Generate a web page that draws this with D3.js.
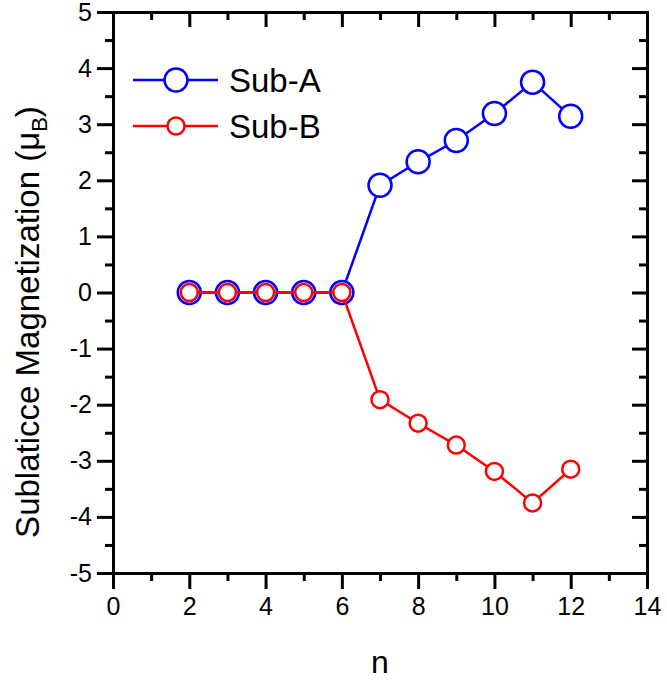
<!DOCTYPE html>
<html>
  <head>
    <meta charset="utf-8">
    <title>Sublattice Magnetization</title>
    <script src="https://d3js.org/d3.v7.min.js"></script>
    <style>
      body { margin: 0; background: #fff; }
      text { font-family: "Liberation Sans", Arial, sans-serif; }
    </style>
  </head>
  <body>
    <script>
      var width = 667;
      var height = 690;

      // data
      var nValues = [2, 3, 4, 5, 6, 7, 8, 9, 10, 11, 12];
      var subA = [0, 0, 0, 0, 0, 1.91, 2.33, 2.71, 3.19, 3.75, 3.14];
      var subB = [0, 0, 0, 0, 0, -1.91, -2.33, -2.72, -3.19, -3.75, -3.15];
      var seriesNames = ["Sub-A", "Sub-B"];
      var xTicks = [0, 2, 4, 6, 8, 10, 12, 14];
      var yTicks = [-5, -4, -3, -2, -1, 0, 1, 2, 3, 4, 5];

      // plot frame
      var plotL = 113, plotR = 647, plotT = 12, plotB = 573;

      var svg = d3.select("body").append("svg").attr("width", width).attr("height", height);

      var xScale = d3.scaleLinear().domain([0, 14]).range([plotL, plotR]);
      var yScale = d3.scaleLinear().domain([-5, 5]).range([plotB, plotT]);

      var xMinor = d3.range(1, 14, 2);
      var yMinor = d3.range(-4.5, 5, 1);

      // plain hyphen for negatives, like the original
      var plain = (d) => String(d);

      function styleAxis(g) {
        g.select(".domain").attr("stroke-width", 3).attr("stroke-linecap", "square");
        g.selectAll(".tick line").attr("stroke-width", 3);
        g.selectAll(".tick text").attr("font-size", 25).attr("fill", "#000");
        g.attr("font-family", null);
      }

      // bottom axis
      svg.append("g")
        .attr("transform", "translate(0," + plotB + ")")
        .call(d3.axisBottom(xScale).tickValues(xTicks).tickFormat(plain).tickSize(16).tickSizeOuter(0).tickPadding(8))
        .call(styleAxis);
      svg.append("g")
        .attr("transform", "translate(0," + plotB + ")")
        .call(d3.axisBottom(xScale).tickValues(xMinor).tickSize(8).tickFormat("").tickSizeOuter(0))
        .call(styleAxis);

      // top axis (ticks inward)
      svg.append("g")
        .attr("transform", "translate(0," + plotT + ")")
        .call(d3.axisBottom(xScale).tickValues(xTicks).tickSize(15).tickFormat("").tickSizeOuter(0))
        .call(styleAxis);
      svg.append("g")
        .attr("transform", "translate(0," + plotT + ")")
        .call(d3.axisBottom(xScale).tickValues(xMinor).tickSize(8).tickFormat("").tickSizeOuter(0))
        .call(styleAxis);

      // left axis
      svg.append("g")
        .attr("transform", "translate(" + plotL + ",0)")
        .call(d3.axisLeft(yScale).tickValues(yTicks).tickFormat(plain).tickSize(16).tickSizeOuter(0).tickPadding(5))
        .call(styleAxis);
      svg.append("g")
        .attr("transform", "translate(" + plotL + ",0)")
        .call(d3.axisLeft(yScale).tickValues(yMinor).tickSize(8).tickFormat("").tickSizeOuter(0))
        .call(styleAxis);

      // right axis (ticks inward)
      svg.append("g")
        .attr("transform", "translate(" + plotR + ",0)")
        .call(d3.axisLeft(yScale).tickValues(yTicks).tickSize(15).tickFormat("").tickSizeOuter(0))
        .call(styleAxis);
      svg.append("g")
        .attr("transform", "translate(" + plotR + ",0)")
        .call(d3.axisLeft(yScale).tickValues(yMinor).tickSize(8).tickFormat("").tickSizeOuter(0))
        .call(styleAxis);

      // axis titles
      svg.append("text")
        .attr("x", xScale(7))
        .attr("y", 673)
        .attr("text-anchor", "middle")
        .style("font-size", "32px")
        .text("n");

      var yl = svg.append("text")
        .attr("transform", "translate(39,322) rotate(-90)")
        .attr("text-anchor", "middle")
        .style("font-size", "33px");
      yl.append("tspan").text("Sublaticce Magnetization (\u03bc");
      yl.append("tspan").attr("dy", 8).style("font-size", "22px").text("B");
      yl.append("tspan").attr("dy", -8).text(")");

      // series
      var series = [
        {name: seriesNames[0], values: subA, color: "#0000ff", r: 11.5},
        {name: seriesNames[1], values: subB, color: "#ff0000", r: 8.5}
      ];

      var line = d3.line()
        .x((d, i) => xScale(nValues[i]))
        .y((d) => yScale(d));

      series.forEach((s) => {
        svg.append("path")
          .datum(s.values)
          .attr("fill", "none")
          .attr("stroke", s.color)
          .attr("stroke-width", 2.5)
          .attr("d", line);

        svg.append("g")
          .selectAll("circle")
          .data(s.values)
          .enter()
          .append("circle")
          .attr("cx", (d, i) => xScale(nValues[i]))
          .attr("cy", (d) => yScale(d))
          .attr("r", s.r)
          .attr("fill", "#fff")
          .attr("stroke", s.color)
          .attr("stroke-width", 2.5);
      });

      // legend
      var legend = svg.append("g");
      series.forEach((s, i) => {
        var ly = 80 + i * 46;
        legend.append("line")
          .attr("x1", 133).attr("x2", 218)
          .attr("y1", ly).attr("y2", ly)
          .attr("stroke", s.color)
          .attr("stroke-width", 2.5);
        legend.append("circle")
          .attr("cx", 176).attr("cy", ly)
          .attr("r", s.r)
          .attr("fill", "#fff")
          .attr("stroke", s.color)
          .attr("stroke-width", 2.5);
        legend.append("text")
          .attr("x", 229)
          .attr("y", ly + 12)
          .style("font-size", "33px")
          .text(s.name);
      });
    </script>
  </body>
</html>
